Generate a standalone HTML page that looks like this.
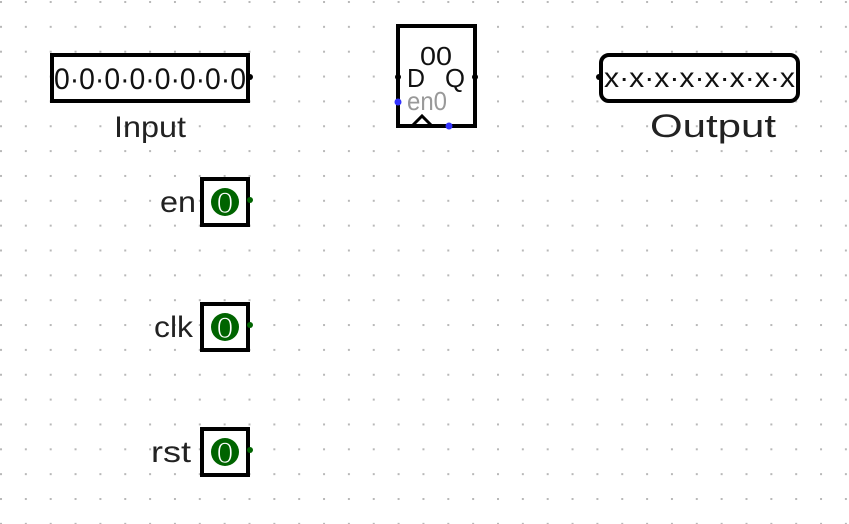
<!DOCTYPE html>
<html><head><meta charset="utf-8"><style>
html,body{margin:0;padding:0;background:#fff;}
svg{display:block;font-family:"Liberation Sans","DejaVu Sans",sans-serif;}
</style></head><body>
<svg width="849" height="524" viewBox="0 0 849 524" xmlns="http://www.w3.org/2000/svg">
<defs>
<pattern id="g" x="0" y="1" width="24.85" height="24.85" patternUnits="userSpaceOnUse">
<rect x="0" y="0" width="2" height="2" fill="#b8b8b8"/>
</pattern>
</defs>
<rect width="849" height="524" fill="url(#g)"/>

<!-- Input -->
<rect x="52" y="55" width="196" height="46" fill="#fff" stroke="#000" stroke-width="4"/>
<text x="54" y="89" font-size="30" textLength="192" lengthAdjust="spacingAndGlyphs" fill="#111">0·0·0·0·0·0·0·0</text>
<circle cx="250" cy="77" r="3" fill="#000"/>
<text x="114" y="137" font-size="30" textLength="72" lengthAdjust="spacingAndGlyphs" fill="#222">Input</text>

<!-- Flip-flop -->
<rect x="398" y="26" width="77" height="100" fill="#fff" stroke="#000" stroke-width="4"/>
<text x="420" y="65" font-size="26" textLength="32" lengthAdjust="spacingAndGlyphs" fill="#111">00</text>
<text x="407" y="87" font-size="26" textLength="18" lengthAdjust="spacingAndGlyphs" fill="#111">D</text>
<text x="445" y="87" font-size="26" textLength="20" lengthAdjust="spacingAndGlyphs" fill="#111">Q</text>
<text x="407" y="110" font-size="26" textLength="40" lengthAdjust="spacingAndGlyphs" fill="#999">en0</text>
<polyline points="412,126 422,116 432,126" fill="none" stroke="#000" stroke-width="3"/>
<circle cx="398" cy="77" r="3" fill="#000"/>
<circle cx="475" cy="77" r="3" fill="#000"/>
<circle cx="398" cy="102" r="3.5" fill="#3333ff"/>
<circle cx="449" cy="126" r="3.5" fill="#3333ff"/>

<!-- Output -->
<rect x="601" y="55" width="197" height="46" rx="8" fill="#fff" stroke="#000" stroke-width="4"/>
<text x="604" y="87" font-size="28" textLength="191" lengthAdjust="spacingAndGlyphs" fill="#111">x·x·x·x·x·x·x·x</text>
<circle cx="599" cy="77" r="3" fill="#000"/>
<text x="650" y="137" font-size="32" textLength="126" lengthAdjust="spacingAndGlyphs" fill="#222">Output</text>

<!-- pins -->
<g>
<rect x="202" y="179" width="46" height="46" fill="#fff" stroke="#000" stroke-width="4"/>
<circle cx="225" cy="202" r="14" fill="#006400"/>
<text x="225" y="213" font-size="30" text-anchor="middle" fill="#fff" stroke="#006400" stroke-width="1">0</text>
<circle cx="250" cy="200" r="3" fill="#006400"/>
<text x="160" y="212" font-size="30" textLength="36" lengthAdjust="spacingAndGlyphs" fill="#222">en</text>
</g>
<g>
<rect x="202" y="304" width="46" height="46" fill="#fff" stroke="#000" stroke-width="4"/>
<circle cx="225" cy="327" r="14" fill="#006400"/>
<text x="225" y="338" font-size="30" text-anchor="middle" fill="#fff" stroke="#006400" stroke-width="1">0</text>
<circle cx="250" cy="325" r="3" fill="#006400"/>
<text x="154" y="337" font-size="30" textLength="39" lengthAdjust="spacingAndGlyphs" fill="#222">clk</text>
</g>
<g>
<rect x="202" y="429" width="46" height="46" fill="#fff" stroke="#000" stroke-width="4"/>
<circle cx="225" cy="452" r="14" fill="#006400"/>
<text x="225" y="463" font-size="30" text-anchor="middle" fill="#fff" stroke="#006400" stroke-width="1">0</text>
<circle cx="250" cy="450" r="3" fill="#006400"/>
<text x="151" y="462" font-size="30" textLength="40" lengthAdjust="spacingAndGlyphs" fill="#222">rst</text>
</g>
</svg>
</body></html>
